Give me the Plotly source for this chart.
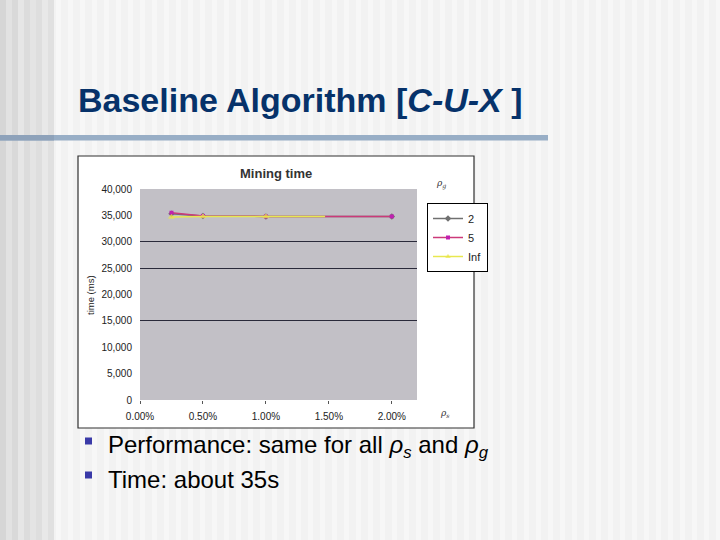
import plotly.graph_objects as go

# ---- data ----
x_2 = [0.0025, 0.005, 0.01, 0.02]
y_2 = [35300, 34900, 34800, 34800]
x_5 = [0.0025, 0.005, 0.01, 0.02]
y_5 = [35500, 34900, 34800, 34800]
x_inf = [0.0025, 0.005, 0.01, 0.0147]
y_inf = [34700, 34800, 34800, 34800]
series_names = ["2", "5", "Inf"]
x_ticks = [0, 0.005, 0.01, 0.015, 0.02]
x_tick_labels = ["0.00%", "0.50%", "1.00%", "1.50%", "2.00%"]
y_ticks = [0, 5000, 10000, 15000, 20000, 25000, 30000, 35000, 40000]
y_tick_labels = ["0", "5,000", "10,000", "15,000", "20,000", "25,000", "30,000", "35,000", "40,000"]
visible_grid = [15000, 25000, 30000]

W, H = 720, 540
def px(x):
    return x / W
def py(y):
    return 1 - y / H

fig = go.Figure()

fig.add_trace(go.Scatter(x=x_2, y=y_2, name=series_names[0], mode="lines+markers",
                         line=dict(color="#707070", width=1.5),
                         marker=dict(symbol="diamond", size=5, color="#707070")))
fig.add_trace(go.Scatter(x=x_5, y=y_5, name=series_names[1], mode="lines+markers",
                         line=dict(color="#cc3a7a", width=1.5),
                         marker=dict(symbol="square", size=4, color="#c020b0")))
fig.add_trace(go.Scatter(x=x_inf, y=y_inf, name=series_names[2], mode="lines+markers",
                         line=dict(color="#e8e850", width=1.5),
                         marker=dict(symbol="triangle-up", size=[5, 5, 5, 0], color="#f0e040")))
# overlay grid axis (only the visible grid lines)
fig.add_trace(go.Scatter(x=[None], y=[None], yaxis="y2", showlegend=False, hoverinfo="skip"))

shapes = []
# left stripes
stripe_cols = ["#d6d6d6", "#e2e2e2", "#d9d9d9", "#e6e6e6", "#dcdcdc", "#e4e4e4", "#dedede", "#e8e8e8", "#e0e0e0"]
for i, c in enumerate(stripe_cols):
    shapes.append(dict(type="rect", xref="paper", yref="paper", x0=px(i * 6), x1=px(i * 6 + 6),
                       y0=0, y1=1, fillcolor=c, line=dict(width=0), layer="below"))
# faint stripes on right part
for i in range(56, 720, 12):
    shapes.append(dict(type="rect", xref="paper", yref="paper", x0=px(i), x1=px(i + 5),
                       y0=0, y1=1, fillcolor="#f7f7f7", line=dict(width=0), layer="below"))
# horizontal rule under title
shapes.append(dict(type="rect", xref="paper", yref="paper", x0=0, x1=px(548), y0=py(140.5), y1=py(135),
                   fillcolor="#98aec6", line=dict(width=0), layer="below"))
shapes.append(dict(type="rect", xref="paper", yref="paper", x0=0, x1=px(54), y0=py(140.5), y1=py(135),
                   fillcolor="#8ea2ba", line=dict(width=0), layer="below"))
# chart box
shapes.append(dict(type="rect", xref="paper", yref="paper", x0=px(78), x1=px(474), y0=py(428), y1=py(156),
                   fillcolor="white", line=dict(color="#303030", width=1.2), layer="below"))
# plot area background
shapes.append(dict(type="rect", xref="x domain", yref="y domain", x0=0, x1=1, y0=0, y1=1,
                   fillcolor="#c2c0c6", line=dict(width=0), layer="below"))
# bullets
for yc in [441, 475]:
    shapes.append(dict(type="rect", xref="paper", yref="paper", x0=px(85), x1=px(92), y0=py(yc + 3.5), y1=py(yc - 3.5),
                       fillcolor="#3a3aa8", line=dict(width=0)))

annotations = [
    dict(text="<b>Baseline Algorithm [</b><b><i>C-U-X </i></b><b>]</b>", x=px(76), y=py(100), xref="paper", yref="paper",
         xanchor="left", yanchor="middle", showarrow=False,
         font=dict(family="Liberation Sans", size=34, color="#06326a")),
    dict(text="<b>Mining time</b>", x=px(276), y=py(174), xref="paper", yref="paper", showarrow=False,
         xanchor="center", yanchor="middle",
         font=dict(family="Liberation Sans, Arial", size=13, color="#333333")),
    dict(text="time (ms)", x=px(90), y=py(295), xref="paper", yref="paper", showarrow=False, textangle=-90,
         xanchor="center", yanchor="middle",
         font=dict(family="Liberation Sans, Arial", size=9.5, color="#222222")),
    dict(text="<i>ρ<sub>g</sub></i>", x=px(441), y=py(184), xref="paper", yref="paper", showarrow=False,
         xanchor="center", yanchor="middle",
         font=dict(family="DejaVu Serif, serif", size=9, color="#333333")),
    dict(text="<i>ρ<sub>s</sub></i>", x=px(445), y=py(413), xref="paper", yref="paper", showarrow=False,
         xanchor="center", yanchor="middle",
         font=dict(family="DejaVu Serif, serif", size=9, color="#333333")),
    dict(text="Performance: same for all <i>ρ<sub>s</sub></i> and <i>ρ<sub>g</sub></i>", x=px(106), y=py(446), xref="paper", yref="paper",
         xanchor="left", yanchor="middle", showarrow=False,
         font=dict(family="Liberation Sans, Arial", size=24, color="#000000")),
    dict(text="Time: about 35s", x=px(106), y=py(479), xref="paper", yref="paper",
         xanchor="left", yanchor="middle", showarrow=False,
         font=dict(family="Liberation Sans, Arial", size=24, color="#000000")),
]

fig.update_layout(
    autosize=True,
    margin=dict(l=0, r=0, t=0, b=0, autoexpand=False),
    paper_bgcolor="#f2f2f2",
    plot_bgcolor="#c2c0c6",
    shapes=shapes,
    annotations=annotations,
    showlegend=True,
    legend=dict(x=px(427), y=py(203), xanchor="left", yanchor="top",
                bgcolor="white", bordercolor="#000000", borderwidth=1,
                font=dict(family="Liberation Sans, Arial", size=11, color="#222222"),
                itemwidth=30, tracegroupgap=0),
    xaxis=dict(domain=[px(140), px(417)], range=[0, 0.022], tickvals=x_ticks, ticktext=x_tick_labels,
               showgrid=False, zeroline=False, showline=False, ticks="outside", ticklen=3, tickcolor="#555555",
               automargin=False, ticklabelstandoff=4,
               tickfont=dict(family="Liberation Sans, Arial", size=10, color="#222222")),
    yaxis=dict(domain=[py(400), py(189)], range=[0, 40000], tickvals=y_ticks, ticktext=y_tick_labels,
               showgrid=False, zeroline=False, showline=False, ticks="", automargin=False, ticklabelstandoff=7,
               tickfont=dict(family="Liberation Sans, Arial", size=10, color="#222222")),
    yaxis2=dict(overlaying="y", range=[0, 40000], tickvals=visible_grid, showticklabels=False,
                showgrid=True, gridcolor="#2a2a3a", gridwidth=1, zeroline=False, side="left", automargin=False),
)

fig.write_html(
    "out.html",
    config={"displayModeBar": False, "responsive": True},
    default_width="100vw",
    default_height="100vh",
    post_script="document.documentElement.style.margin='0';document.body.style.margin='0';document.body.style.overflow='hidden';document.body.style.background='#f2f2f2';Plotly.Plots.resize(document.getElementById('{plot_id}'));",
)
